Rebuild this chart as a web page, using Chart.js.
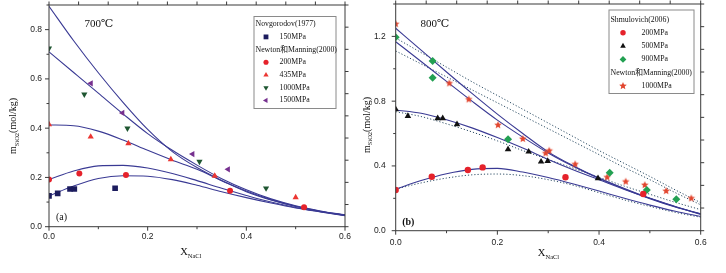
<!DOCTYPE html>
<html><head><meta charset="utf-8">
<script src="https://cdn.jsdelivr.net/npm/chart.js@4.4.1/dist/chart.umd.min.js"></script>
<style>
html,body{margin:0;padding:0;background:#fff;}
#wrap{position:relative;width:726px;height:273px;overflow:hidden;background:#fff;}
canvas{position:absolute;top:0;}
</style></head><body>
<div id="wrap">
<canvas id="ca" style="left:0;width:363px;height:273px"></canvas>
<canvas id="cb" style="left:355px;width:371px;height:273px"></canvas>
</div>
<script>
// ---------------- DATA ----------------
// shared model-curve abscissae (X_NaCl)
const curveX = [0, 0.05, 0.1, 0.15, 0.2, 0.25, 0.3, 0.35, 0.4, 0.45, 0.5, 0.55, 0.6];

// Panel (a) 700℃ model curves (m_SiO2, mol/kg)
const aCurve150  = [0.125, 0.165, 0.196, 0.207, 0.205, 0.191, 0.168, 0.142, 0.118, 0.096, 0.076, 0.060, 0.045];
const aCurve200  = [0.192, 0.226, 0.247, 0.249, 0.238, 0.216, 0.187, 0.156, 0.127, 0.100, 0.078, 0.061, 0.046];
const aCurve435  = [0.413, 0.410, 0.388, 0.352, 0.310, 0.270, 0.233, 0.187, 0.142, 0.108, 0.082, 0.062, 0.047];
const aCurve1000 = [0.710, 0.626, 0.542, 0.458, 0.378, 0.310, 0.250, 0.195, 0.150, 0.113, 0.085, 0.064, 0.048];
const aCurve1500 = [0.895, 0.755, 0.625, 0.505, 0.395, 0.305, 0.240, 0.188, 0.145, 0.110, 0.083, 0.063, 0.047];

// Panel (a) measured points
const a150x  = [0, 0.0176, 0.0426, 0.0513, 0.134];
const a150y  = [0.125, 0.135, 0.153, 0.153, 0.156];
const a200x  = [0, 0.0615, 0.156, 0.367, 0.517];
const a200y  = [0.192, 0.216, 0.210, 0.146, 0.079];
const a435x  = [0, 0.0845, 0.161, 0.247, 0.336, 0.500];
const a435y  = [0.415, 0.365, 0.338, 0.273, 0.206, 0.119];
const a1000x = [0, 0.0716, 0.159, 0.305, 0.440];
const a1000y = [0.724, 0.537, 0.399, 0.264, 0.156];
const a1500x = [0.085, 0.149, 0.291, 0.363];
const a1500y = [0.582, 0.462, 0.295, 0.233];

const aHeaders = ['Novgorodov(1977)', 'Newton和Manning(2000)'];
const aLabels  = ['150MPa', '200MPa', '435MPa', '1000MPa', '1500MPa'];

// Panel (b) 800℃ model curves
const bSolidA  = [1.250, 1.115, 0.980, 0.848, 0.720, 0.600, 0.487, 0.400, 0.325, 0.260, 0.200, 0.148, 0.105];
const bSolidB  = [1.167, 1.045, 0.922, 0.800, 0.683, 0.578, 0.480, 0.396, 0.322, 0.258, 0.198, 0.146, 0.103];
const bSolid500 = [0.745, 0.725, 0.685, 0.635, 0.575, 0.510, 0.440, 0.375, 0.315, 0.255, 0.200, 0.150, 0.100];
const bSolid200 = [0.257, 0.310, 0.352, 0.379, 0.385, 0.362, 0.328, 0.288, 0.245, 0.200, 0.158, 0.120, 0.088];
const bDotA    = [1.190, 1.100, 1.010, 0.920, 0.835, 0.750, 0.665, 0.580, 0.495, 0.415, 0.335, 0.252, 0.173];
const bDotB    = [1.110, 1.030, 0.950, 0.870, 0.790, 0.710, 0.630, 0.550, 0.470, 0.390, 0.315, 0.235, 0.160];
const bDot500  = [0.735, 0.705, 0.660, 0.610, 0.555, 0.495, 0.440, 0.385, 0.330, 0.275, 0.225, 0.175, 0.130];
const bDot200  = [0.257, 0.295, 0.325, 0.345, 0.350, 0.340, 0.315, 0.280, 0.235, 0.190, 0.150, 0.113, 0.083];

// Panel (b) measured points
const b200x  = [0, 0.071, 0.142, 0.171, 0.334, 0.487];
const b200y  = [0.251, 0.333, 0.375, 0.391, 0.330, 0.227];
const b500x  = [0, 0.024, 0.0826, 0.0925, 0.1206, 0.221, 0.2616, 0.286, 0.299, 0.398];
const b500y  = [0.750, 0.708, 0.694, 0.694, 0.657, 0.502, 0.488, 0.426, 0.430, 0.323];
const b900x  = [0, 0.0727, 0.0727, 0.221, 0.421, 0.494, 0.552];
const b900y  = [1.194, 1.048, 0.945, 0.564, 0.358, 0.251, 0.194];
const b1000x = [0, 0.1055, 0.1436, 0.2013, 0.250, 0.295, 0.302, 0.353, 0.416, 0.4525, 0.490, 0.532, 0.5815];
const b1000y = [1.276, 0.910, 0.811, 0.652, 0.567, 0.478, 0.494, 0.410, 0.330, 0.303, 0.282, 0.245, 0.200];

const bHeaders = ['Shmulovich(2006)', 'Newton和Manning(2000)'];
const bLabels  = ['200MPa', '500MPa', '900MPa', '1000MPa'];

// ---------------- STYLE ----------------
const NAVY = '#3a3a94';
const DOT = '#2f4f66';
const SERIF = '"Liberation Serif","DejaVu Serif","Noto Sans CJK SC",serif';
const SANS = '"Liberation Sans","DejaVu Sans",sans-serif';

function makeStar(color, r) {
  const s = Math.ceil(r * 2 + 2);
  const c = document.createElement('canvas');
  c.width = s; c.height = s;
  const g = c.getContext('2d');
  g.fillStyle = color;
  g.beginPath();
  for (let i = 0; i < 10; i++) {
    const ang = -Math.PI / 2 + i * Math.PI / 5;
    const rr = (i % 2) ? r * 0.45 : r;
    g.lineTo(s / 2 + rr * Math.cos(ang), s / 2 + rr * Math.sin(ang));
  }
  g.closePath(); g.fill();
  return c;
}
const STAR = makeStar('#e2462f', 4);

const zip = (xs, ys) => xs.map((x, i) => ({x: x, y: ys[i]}));

function pts(label, xs, ys, style, color, radius, rotation) {
  return {label, data: zip(xs, ys), showLine: false, pointStyle: style, pointRadius: radius,
    pointRotation: rotation || 0, backgroundColor: color, borderColor: color, pointBorderWidth: 0,
    pointHoverRadius: radius, clip: 0};
}
function curve(ys, color, dashed) {
  return {label: '', data: zip(curveX, ys), showLine: true, pointRadius: 0, borderColor: color,
    borderWidth: dashed ? 1 : 1.1, borderDash: dashed ? [1.2, 2] : [], cubicInterpolationMode: 'monotone',
    fill: false, clip: 0};
}

function drawRich(ctx, parts, x, y, rot, color) {
  ctx.save();
  ctx.translate(x, y); ctx.rotate(rot || 0);
  ctx.fillStyle = color || '#111';
  ctx.textAlign = 'left'; ctx.textBaseline = 'alphabetic';
  let total = 0;
  parts.forEach(p => { ctx.font = p.f; p.w = ctx.measureText(p.t).width; total += p.w; });
  let cx = -total / 2;
  parts.forEach(p => { ctx.font = p.f; ctx.fillText(p.t, cx, p.dy || 0); cx += p.w; });
  ctx.restore();
}

const decorPlugin = {
  id: 'decor',
  afterDraw(chart, args, o) {
    const ctx = chart.ctx, ca = chart.chartArea, sc = chart.scales;
    ctx.save();
    ctx.strokeStyle = '#3a3a3a'; ctx.lineWidth = 1;
    ctx.strokeRect(ca.left, ca.top, ca.right - ca.left, ca.bottom - ca.top);
    ctx.beginPath();
    sc.x.ticks.forEach(t => { const p = sc.x.getPixelForValue(t.value); const L = t.label ? 4 : 2.5;
      ctx.moveTo(p, ca.bottom); ctx.lineTo(p, ca.bottom + L); });
    sc.y.ticks.forEach(t => { const p = sc.y.getPixelForValue(t.value); const L = t.label ? 4 : 2.5;
      ctx.moveTo(ca.left, p); ctx.lineTo(ca.left - L, p); });
    sc.xt.ticks.forEach(t => { const p = sc.xt.getPixelForValue(t.value);
      ctx.moveTo(p, ca.top); ctx.lineTo(p, ca.top - 3.5); });
    sc.yr.ticks.forEach(t => { const p = sc.yr.getPixelForValue(t.value);
      ctx.moveTo(ca.right, p); ctx.lineTo(ca.right + 3.5, p); });
    ctx.stroke();
    ctx.restore();
    // texts
    (o.texts || []).forEach(t => drawRich(ctx, t.parts, t.x, t.y, t.rot, t.color));
    // legend
    const lg = o.legend;
    if (lg) {
      ctx.save();
      ctx.fillStyle = '#fff'; ctx.fillRect(lg.x, lg.y, lg.w, lg.h);
      ctx.strokeStyle = '#8a8a8a'; ctx.lineWidth = 1; ctx.strokeRect(lg.x, lg.y, lg.w, lg.h);
      ctx.textBaseline = 'middle'; ctx.textAlign = 'left';
      lg.rows.forEach((r, i) => {
        const yy = lg.row0 + i * lg.step;
        ctx.fillStyle = '#111'; ctx.font = lg.font;
        if (r.header) { ctx.fillText(r.header, lg.hx, yy); return; }
        ctx.fillText(r.label, lg.tx, yy);
        ctx.fillStyle = r.color; ctx.strokeStyle = r.color;
        Chart.helpers.drawPoint(ctx, {pointStyle: r.style, radius: r.radius, rotation: r.rotation || 0, borderWidth: 0}, lg.mx, yy);
      });
      ctx.restore();
    }
  }
};

function makeOptions(cfg) {
  return {
    responsive: false, animation: false, events: [],
    layout: {padding: 0},
    plugins: {legend: {display: false}, tooltip: {enabled: false}, decor: cfg.decor},
    scales: {
      x: {type: 'linear', position: 'bottom', min: 0, max: 0.6,
        grid: {display: false, drawTicks: false}, border: {display: false},
        ticks: {stepSize: 0.1, autoSkip: false, maxRotation: 0, padding: cfg.xpad, color: '#222',
          font: {family: SANS, size: 8.5},
          callback: v => (Math.round(v * 10) % 2 === 0) ? v.toFixed(1) : ''},
        afterFit: s => { s.height = cfg.H - cfg.bottom; s.paddingLeft = 0; s.paddingRight = 0; }},
      y: {type: 'linear', position: 'left', min: 0, max: cfg.ymax,
        grid: {display: false, drawTicks: false}, border: {display: false},
        ticks: {stepSize: cfg.ystep, autoSkip: false, padding: cfg.ypad, color: '#222',
          font: {family: SANS, size: 8.5},
          callback: v => (Math.round(v * 10) % cfg.ymajor === 0) ? v.toFixed(1) : ''},
        afterFit: s => { s.width = cfg.left; s.paddingTop = 0; s.paddingBottom = 0; }},
      xt: {type: 'linear', position: 'top', axis: 'x', min: 0, max: 10,
        grid: {display: false, drawTicks: false}, border: {display: false},
        ticks: {display: false, stepSize: 1},
        afterFit: s => { s.height = cfg.top; s.paddingLeft = 0; s.paddingRight = 0; }},
      yr: {type: 'linear', position: 'right', axis: 'y', min: 0, max: 10,
        grid: {display: false, drawTicks: false}, border: {display: false},
        ticks: {display: false, stepSize: 1},
        afterFit: s => { s.width = cfg.W - cfg.right; s.paddingTop = 0; s.paddingBottom = 0; }}
    }
  };
}

function setup(id, W, H) {
  const c = document.getElementById(id);
  c.width = W; c.height = H;
  return c;
}

// ---------------- PANEL A ----------------
const aStyles = [
  {style: 'rect', color: '#1c1c5e', radius: 4, rotation: 0},
  {style: 'circle', color: '#e5222b', radius: 3, rotation: 0},
  {style: 'triangle', color: '#ec3632', radius: 3.6, rotation: 0},
  {style: 'triangle', color: '#1e5631', radius: 3.6, rotation: 180},
  {style: 'triangle', color: '#76308f', radius: 3.6, rotation: 270}
];
const aPts = [[a150x, a150y], [a200x, a200y], [a435x, a435y], [a1000x, a1000y], [a1500x, a1500y]];
const aDatasets = aPts.map((p, i) => pts(aLabels[i], p[0], p[1], aStyles[i].style, aStyles[i].color, aStyles[i].radius, aStyles[i].rotation))
  .concat([aCurve150, aCurve200, aCurve435, aCurve1000, aCurve1500].map(ys => curve(ys, NAVY, false)));

const aRows = [{header: aHeaders[0]}, Object.assign({label: aLabels[0]}, aStyles[0]), {header: aHeaders[1]}]
  .concat(aLabels.slice(1).map((l, i) => Object.assign({label: l}, aStyles[i + 1])));

const WA = 363, HA = 273;
new Chart(setup('ca', WA, HA), {
  type: 'scatter',
  data: {datasets: aDatasets},
  plugins: [decorPlugin],
  options: makeOptions({W: WA, H: HA, left: 49, right: 345, top: 5, bottom: 226.7, ymax: 0.9, ystep: 0.1, ymajor: 2,
    xpad: 5, ypad: 7,
    decor: {
      legend: {x: 254, y: 16.5, w: 82, h: 92, row0: 24.2, step: 12.7, hx: 255.5, mx: 266, tx: 279.5,
        font: '7.8px ' + SERIF, rows: aRows.map(r => r.style ? Object.assign({}, r, {radius: r.radius * 0.85}) : r)},
      texts: [
        {parts: [{t: 'm', f: '10px ' + SERIF}, {t: 'SiO2', f: '6.5px ' + SERIF, dy: 2.5}, {t: '(mol/kg)', f: '10px ' + SERIF}], x: 16, y: 126, rot: -Math.PI / 2},
        {parts: [{t: 'X', f: '10.5px ' + SERIF}, {t: 'NaCl', f: '6.5px ' + SERIF, dy: 3}], x: 190.8, y: 255},
        {parts: [{t: '700℃', f: '11px ' + SERIF}], x: 98.8, y: 27.3},
        {parts: [{t: '(a)', f: '10px ' + SERIF}], x: 61.5, y: 219.5}
      ]
    }})
});

// ---------------- PANEL B ----------------
const bStyles = [
  {style: 'circle', color: '#e5222b', radius: 3.2, rotation: 0},
  {style: 'triangle', color: '#111111', radius: 3.8, rotation: 0},
  {style: 'rectRot', color: '#22a052', radius: 4, rotation: 0},
  {style: STAR, color: '#e2462f', radius: 4, rotation: 0}
];
const bPts = [[b200x, b200y], [b500x, b500y], [b900x, b900y], [b1000x, b1000y]];
const bDatasets = bPts.map((p, i) => pts(bLabels[i], p[0], p[1], bStyles[i].style, bStyles[i].color, bStyles[i].radius, bStyles[i].rotation))
  .concat([bSolidA, bSolidB, bSolid500, bSolid200].map(ys => curve(ys, NAVY, false)))
  .concat([bDotA, bDotB, bDot500, bDot200].map(ys => curve(ys, DOT, true)));

const bRows = [{header: bHeaders[0]}]
  .concat(bLabels.slice(0, 3).map((l, i) => Object.assign({label: l}, bStyles[i])))
  .concat([{header: bHeaders[1]}, Object.assign({label: bLabels[3]}, bStyles[3])]);

const WB = 371, HB = 273, OX = 355;
new Chart(setup('cb', WB, HB), {
  type: 'scatter',
  data: {datasets: bDatasets},
  plugins: [decorPlugin],
  options: makeOptions({W: WB, H: HB, left: 395.7 - OX, right: 700.7 - OX, top: 4, bottom: 230.7, ymax: 1.4, ystep: 0.2, ymajor: 4,
    xpad: 7, ypad: 10,
    decor: {
      legend: {x: 609 - OX, y: 10, w: 85, h: 83.5, row0: 19.5, step: 13.3, hx: 610.5 - OX, mx: 623 - OX, tx: 641.5 - OX,
        font: '7.8px ' + SERIF, rows: bRows.map(r => (r.style && typeof r.style === 'string') ? Object.assign({}, r, {radius: r.radius * 0.85}) : r)},
      texts: [
        {parts: [{t: 'm', f: '10px ' + SERIF}, {t: 'SiO2', f: '6.5px ' + SERIF, dy: 2.5}, {t: '(mol/kg)', f: '10px ' + SERIF}], x: 369.5 - OX, y: 125, rot: -Math.PI / 2},
        {parts: [{t: 'X', f: '10.5px ' + SERIF}, {t: 'NaCl', f: '6.5px ' + SERIF, dy: 3}], x: 548.5 - OX, y: 256},
        {parts: [{t: '800℃', f: '11px ' + SERIF}], x: 434.8 - OX, y: 26.7},
        {parts: [{t: '(b)', f: 'bold 10px ' + SERIF}], x: 408.3 - OX, y: 225}
      ]
    }})
});
</script>
</body></html>
